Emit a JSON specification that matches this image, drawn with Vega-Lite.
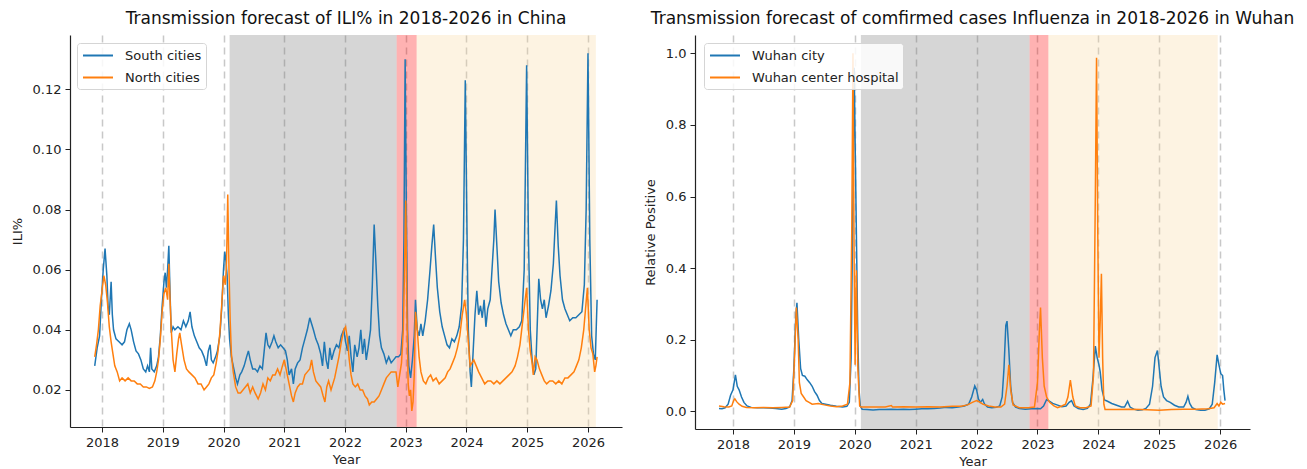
{
  "$schema": "https://vega.github.io/schema/vega-lite/v6.json",
  "padding": {"left": 11, "top": 10, "right": 0, "bottom": 0},
  "background": "white",
  "config": {
    "font": "DejaVu Sans",
    "view": {"stroke": null},
    "axis": {"labelFontSize": 13, "titleFontSize": 13, "labelColor": "#222", "titleColor": "#222", "domainColor": "#222", "tickColor": "#222", "tickSize": 5, "labelPadding": 4, "titleFontWeight": "normal", "domainWidth": 1.2, "labelFont": "DejaVu Sans", "titleFont": "DejaVu Sans"},
    "title": {"fontSize": 17, "fontWeight": "normal", "offset": 7, "color": "#111", "font": "DejaVu Sans"},
    "legend": {"orient": "none", "legendX": 7, "legendY": 8, "title": null, "symbolType": "M-0.87,0H3.13", "symbolSize": 225, "symbolStrokeWidth": 2, "symbolFillColor": "transparent", "labelFontSize": 13, "labelColor": "#222", "strokeColor": "#d5d5d5", "fillColor": "rgba(255,255,255,0.85)", "padding": 4, "cornerRadius": 3, "rowPadding": 6, "labelOffset": 27, "labelFont": "DejaVu Sans"}
  },
  "datasets": {
    "china_periods": [
      {"phase": "control", "start": 2020.1, "end": 2022.85},
      {"phase": "peak", "start": 2022.85, "end": 2023.18},
      {"phase": "forecast", "start": 2023.18, "end": 2026.13}
    ],
    "wuhan_periods": [
      {"phase": "control", "start": 2020.1, "end": 2022.87},
      {"phase": "peak", "start": 2022.87, "end": 2023.18},
      {"phase": "forecast", "start": 2023.18, "end": 2025.96}
    ],
    "china": [
      {"series":"South cities","year":2017.88,"value":0.028},{"series":"South cities","year":2017.92,"value":0.034},{"series":"South cities","year":2017.96,"value":0.038},{"series":"South cities","year":2017.99,"value":0.05},{"series":"South cities","year":2018.02,"value":0.06},{"series":"South cities","year":2018.05,"value":0.067},{"series":"South cities","year":2018.08,"value":0.058},{"series":"South cities","year":2018.1,"value":0.048},{"series":"South cities","year":2018.12,"value":0.045},{"series":"South cities","year":2018.15,"value":0.056},{"series":"South cities","year":2018.17,"value":0.045},{"series":"South cities","year":2018.19,"value":0.04},{"series":"South cities","year":2018.23,"value":0.037},{"series":"South cities","year":2018.28,"value":0.036},{"series":"South cities","year":2018.33,"value":0.035},{"series":"South cities","year":2018.37,"value":0.036},{"series":"South cities","year":2018.41,"value":0.04},{"series":"South cities","year":2018.45,"value":0.042},{"series":"South cities","year":2018.48,"value":0.04},{"series":"South cities","year":2018.52,"value":0.036},{"series":"South cities","year":2018.56,"value":0.033},{"series":"South cities","year":2018.6,"value":0.032},{"series":"South cities","year":2018.64,"value":0.03},{"series":"South cities","year":2018.68,"value":0.027},{"series":"South cities","year":2018.72,"value":0.026},{"series":"South cities","year":2018.75,"value":0.028},{"series":"South cities","year":2018.78,"value":0.026},{"series":"South cities","year":2018.8,"value":0.034},{"series":"South cities","year":2018.82,"value":0.027},{"series":"South cities","year":2018.86,"value":0.026},{"series":"South cities","year":2018.9,"value":0.028},{"series":"South cities","year":2018.93,"value":0.031},{"series":"South cities","year":2018.96,"value":0.038},{"series":"South cities","year":2018.99,"value":0.048},{"series":"South cities","year":2019.02,"value":0.056},{"series":"South cities","year":2019.04,"value":0.059},{"series":"South cities","year":2019.06,"value":0.054},{"series":"South cities","year":2019.08,"value":0.06},{"series":"South cities","year":2019.1,"value":0.068},{"series":"South cities","year":2019.12,"value":0.052},{"series":"South cities","year":2019.14,"value":0.039},{"series":"South cities","year":2019.17,"value":0.041},{"series":"South cities","year":2019.2,"value":0.04},{"series":"South cities","year":2019.25,"value":0.041},{"series":"South cities","year":2019.3,"value":0.04},{"series":"South cities","year":2019.34,"value":0.043},{"series":"South cities","year":2019.38,"value":0.041},{"series":"South cities","year":2019.42,"value":0.043},{"series":"South cities","year":2019.45,"value":0.046},{"series":"South cities","year":2019.48,"value":0.041},{"series":"South cities","year":2019.52,"value":0.038},{"series":"South cities","year":2019.56,"value":0.036},{"series":"South cities","year":2019.6,"value":0.034},{"series":"South cities","year":2019.64,"value":0.033},{"series":"South cities","year":2019.68,"value":0.031},{"series":"South cities","year":2019.72,"value":0.028},{"series":"South cities","year":2019.75,"value":0.033},{"series":"South cities","year":2019.78,"value":0.035},{"series":"South cities","year":2019.8,"value":0.03},{"series":"South cities","year":2019.83,"value":0.029},{"series":"South cities","year":2019.87,"value":0.031},{"series":"South cities","year":2019.9,"value":0.033},{"series":"South cities","year":2019.94,"value":0.038},{"series":"South cities","year":2019.97,"value":0.047},{"series":"South cities","year":2020.0,"value":0.06},{"series":"South cities","year":2020.02,"value":0.066},{"series":"South cities","year":2020.04,"value":0.063},{"series":"South cities","year":2020.06,"value":0.058},{"series":"South cities","year":2020.08,"value":0.045},{"series":"South cities","year":2020.1,"value":0.037},{"series":"South cities","year":2020.13,"value":0.031},{"series":"South cities","year":2020.17,"value":0.027},{"series":"South cities","year":2020.2,"value":0.024},{"series":"South cities","year":2020.23,"value":0.022},{"series":"South cities","year":2020.27,"value":0.025},{"series":"South cities","year":2020.3,"value":0.026},{"series":"South cities","year":2020.34,"value":0.028},{"series":"South cities","year":2020.38,"value":0.031},{"series":"South cities","year":2020.41,"value":0.033},{"series":"South cities","year":2020.44,"value":0.03},{"series":"South cities","year":2020.48,"value":0.027},{"series":"South cities","year":2020.52,"value":0.027},{"series":"South cities","year":2020.56,"value":0.026},{"series":"South cities","year":2020.6,"value":0.028},{"series":"South cities","year":2020.64,"value":0.027},{"series":"South cities","year":2020.67,"value":0.033},{"series":"South cities","year":2020.7,"value":0.039},{"series":"South cities","year":2020.73,"value":0.035},{"series":"South cities","year":2020.76,"value":0.034},{"series":"South cities","year":2020.8,"value":0.036},{"series":"South cities","year":2020.83,"value":0.038},{"series":"South cities","year":2020.86,"value":0.036},{"series":"South cities","year":2020.9,"value":0.034},{"series":"South cities","year":2020.94,"value":0.035},{"series":"South cities","year":2020.98,"value":0.034},{"series":"South cities","year":2021.02,"value":0.033},{"series":"South cities","year":2021.05,"value":0.03},{"series":"South cities","year":2021.08,"value":0.025},{"series":"South cities","year":2021.12,"value":0.027},{"series":"South cities","year":2021.15,"value":0.022},{"series":"South cities","year":2021.18,"value":0.027},{"series":"South cities","year":2021.22,"value":0.029},{"series":"South cities","year":2021.26,"value":0.03},{"series":"South cities","year":2021.3,"value":0.034},{"series":"South cities","year":2021.34,"value":0.037},{"series":"South cities","year":2021.38,"value":0.04},{"series":"South cities","year":2021.42,"value":0.044},{"series":"South cities","year":2021.45,"value":0.042},{"series":"South cities","year":2021.48,"value":0.04},{"series":"South cities","year":2021.52,"value":0.037},{"series":"South cities","year":2021.56,"value":0.035},{"series":"South cities","year":2021.6,"value":0.032},{"series":"South cities","year":2021.63,"value":0.028},{"series":"South cities","year":2021.66,"value":0.036},{"series":"South cities","year":2021.69,"value":0.03},{"series":"South cities","year":2021.72,"value":0.027},{"series":"South cities","year":2021.75,"value":0.034},{"series":"South cities","year":2021.78,"value":0.03},{"series":"South cities","year":2021.82,"value":0.033},{"series":"South cities","year":2021.86,"value":0.035},{"series":"South cities","year":2021.9,"value":0.034},{"series":"South cities","year":2021.94,"value":0.038},{"series":"South cities","year":2021.98,"value":0.04},{"series":"South cities","year":2022.01,"value":0.036},{"series":"South cities","year":2022.04,"value":0.033},{"series":"South cities","year":2022.07,"value":0.038},{"series":"South cities","year":2022.1,"value":0.031},{"series":"South cities","year":2022.13,"value":0.026},{"series":"South cities","year":2022.16,"value":0.035},{"series":"South cities","year":2022.2,"value":0.031},{"series":"South cities","year":2022.23,"value":0.034},{"series":"South cities","year":2022.26,"value":0.04},{"series":"South cities","year":2022.29,"value":0.032},{"series":"South cities","year":2022.32,"value":0.037},{"series":"South cities","year":2022.35,"value":0.03},{"series":"South cities","year":2022.38,"value":0.034},{"series":"South cities","year":2022.42,"value":0.04},{"series":"South cities","year":2022.45,"value":0.055},{"series":"South cities","year":2022.48,"value":0.075},{"series":"South cities","year":2022.51,"value":0.062},{"series":"South cities","year":2022.54,"value":0.048},{"series":"South cities","year":2022.57,"value":0.038},{"series":"South cities","year":2022.6,"value":0.034},{"series":"South cities","year":2022.64,"value":0.032},{"series":"South cities","year":2022.68,"value":0.029},{"series":"South cities","year":2022.72,"value":0.031},{"series":"South cities","year":2022.76,"value":0.029},{"series":"South cities","year":2022.8,"value":0.03},{"series":"South cities","year":2022.84,"value":0.031},{"series":"South cities","year":2022.88,"value":0.031},{"series":"South cities","year":2022.92,"value":0.032},{"series":"South cities","year":2022.95,"value":0.04},{"series":"South cities","year":2022.97,"value":0.07},{"series":"South cities","year":2022.99,"value":0.13},{"series":"South cities","year":2023.01,"value":0.08},{"series":"South cities","year":2023.03,"value":0.04},{"series":"South cities","year":2023.05,"value":0.028},{"series":"South cities","year":2023.08,"value":0.024},{"series":"South cities","year":2023.11,"value":0.03},{"series":"South cities","year":2023.14,"value":0.038},{"series":"South cities","year":2023.16,"value":0.05},{"series":"South cities","year":2023.19,"value":0.04},{"series":"South cities","year":2023.22,"value":0.038},{"series":"South cities","year":2023.25,"value":0.042},{"series":"South cities","year":2023.28,"value":0.038},{"series":"South cities","year":2023.32,"value":0.043},{"series":"South cities","year":2023.36,"value":0.05},{"series":"South cities","year":2023.4,"value":0.06},{"series":"South cities","year":2023.43,"value":0.068},{"series":"South cities","year":2023.46,"value":0.075},{"series":"South cities","year":2023.49,"value":0.064},{"series":"South cities","year":2023.52,"value":0.054},{"series":"South cities","year":2023.56,"value":0.046},{"series":"South cities","year":2023.6,"value":0.041},{"series":"South cities","year":2023.64,"value":0.038},{"series":"South cities","year":2023.68,"value":0.035},{"series":"South cities","year":2023.72,"value":0.034},{"series":"South cities","year":2023.76,"value":0.037},{"series":"South cities","year":2023.8,"value":0.036},{"series":"South cities","year":2023.84,"value":0.038},{"series":"South cities","year":2023.88,"value":0.041},{"series":"South cities","year":2023.92,"value":0.048},{"series":"South cities","year":2023.95,"value":0.07},{"series":"South cities","year":2023.98,"value":0.123},{"series":"South cities","year":2024.01,"value":0.07},{"series":"South cities","year":2024.03,"value":0.04},{"series":"South cities","year":2024.06,"value":0.026},{"series":"South cities","year":2024.08,"value":0.021},{"series":"South cities","year":2024.11,"value":0.033},{"series":"South cities","year":2024.14,"value":0.045},{"series":"South cities","year":2024.17,"value":0.053},{"series":"South cities","year":2024.2,"value":0.045},{"series":"South cities","year":2024.23,"value":0.048},{"series":"South cities","year":2024.26,"value":0.044},{"series":"South cities","year":2024.29,"value":0.05},{"series":"South cities","year":2024.32,"value":0.041},{"series":"South cities","year":2024.35,"value":0.047},{"series":"South cities","year":2024.39,"value":0.05},{"series":"South cities","year":2024.42,"value":0.06},{"series":"South cities","year":2024.45,"value":0.07},{"series":"South cities","year":2024.47,"value":0.08},{"series":"South cities","year":2024.5,"value":0.068},{"series":"South cities","year":2024.53,"value":0.056},{"series":"South cities","year":2024.57,"value":0.049},{"series":"South cities","year":2024.61,"value":0.045},{"series":"South cities","year":2024.65,"value":0.042},{"series":"South cities","year":2024.69,"value":0.04},{"series":"South cities","year":2024.73,"value":0.038},{"series":"South cities","year":2024.77,"value":0.04},{"series":"South cities","year":2024.82,"value":0.04},{"series":"South cities","year":2024.87,"value":0.041},{"series":"South cities","year":2024.91,"value":0.043},{"series":"South cities","year":2024.95,"value":0.06},{"series":"South cities","year":2024.99,"value":0.128},{"series":"South cities","year":2025.02,"value":0.07},{"series":"South cities","year":2025.05,"value":0.04},{"series":"South cities","year":2025.08,"value":0.03},{"series":"South cities","year":2025.11,"value":0.025},{"series":"South cities","year":2025.14,"value":0.027},{"series":"South cities","year":2025.17,"value":0.045},{"series":"South cities","year":2025.19,"value":0.057},{"series":"South cities","year":2025.22,"value":0.05},{"series":"South cities","year":2025.25,"value":0.047},{"series":"South cities","year":2025.28,"value":0.05},{"series":"South cities","year":2025.31,"value":0.044},{"series":"South cities","year":2025.35,"value":0.048},{"series":"South cities","year":2025.39,"value":0.053},{"series":"South cities","year":2025.43,"value":0.062},{"series":"South cities","year":2025.46,"value":0.075},{"series":"South cities","year":2025.48,"value":0.083},{"series":"South cities","year":2025.51,"value":0.068},{"series":"South cities","year":2025.54,"value":0.058},{"series":"South cities","year":2025.58,"value":0.05},{"series":"South cities","year":2025.62,"value":0.047},{"series":"South cities","year":2025.66,"value":0.045},{"series":"South cities","year":2025.7,"value":0.043},{"series":"South cities","year":2025.75,"value":0.044},{"series":"South cities","year":2025.8,"value":0.044},{"series":"South cities","year":2025.85,"value":0.045},{"series":"South cities","year":2025.9,"value":0.046},{"series":"South cities","year":2025.94,"value":0.055},{"series":"South cities","year":2025.97,"value":0.08},{"series":"South cities","year":2026.0,"value":0.132},{"series":"South cities","year":2026.03,"value":0.07},{"series":"South cities","year":2026.06,"value":0.038},{"series":"South cities","year":2026.09,"value":0.032},{"series":"South cities","year":2026.12,"value":0.03},{"series":"South cities","year":2026.15,"value":0.05},
      {"series":"North cities","year":2017.88,"value":0.031},{"series":"North cities","year":2017.91,"value":0.035},{"series":"North cities","year":2017.94,"value":0.04},{"series":"North cities","year":2017.97,"value":0.048},{"series":"North cities","year":2018.0,"value":0.053},{"series":"North cities","year":2018.03,"value":0.058},{"series":"North cities","year":2018.06,"value":0.055},{"series":"North cities","year":2018.09,"value":0.049},{"series":"North cities","year":2018.12,"value":0.041},{"series":"North cities","year":2018.15,"value":0.036},{"series":"North cities","year":2018.18,"value":0.032},{"series":"North cities","year":2018.21,"value":0.028},{"series":"North cities","year":2018.25,"value":0.026},{"series":"North cities","year":2018.29,"value":0.023},{"series":"North cities","year":2018.33,"value":0.024},{"series":"North cities","year":2018.38,"value":0.023},{"series":"North cities","year":2018.43,"value":0.024},{"series":"North cities","year":2018.48,"value":0.023},{"series":"North cities","year":2018.53,"value":0.023},{"series":"North cities","year":2018.58,"value":0.022},{"series":"North cities","year":2018.63,"value":0.022},{"series":"North cities","year":2018.68,"value":0.021},{"series":"North cities","year":2018.73,"value":0.021},{"series":"North cities","year":2018.78,"value":0.0205},{"series":"North cities","year":2018.83,"value":0.021},{"series":"North cities","year":2018.87,"value":0.023},{"series":"North cities","year":2018.9,"value":0.026},{"series":"North cities","year":2018.93,"value":0.03},{"series":"North cities","year":2018.96,"value":0.037},{"series":"North cities","year":2018.99,"value":0.046},{"series":"North cities","year":2019.02,"value":0.052},{"series":"North cities","year":2019.05,"value":0.054},{"series":"North cities","year":2019.08,"value":0.05},{"series":"North cities","year":2019.1,"value":0.062},{"series":"North cities","year":2019.12,"value":0.05},{"series":"North cities","year":2019.14,"value":0.04},{"series":"North cities","year":2019.17,"value":0.03},{"series":"North cities","year":2019.2,"value":0.026},{"series":"North cities","year":2019.23,"value":0.032},{"series":"North cities","year":2019.26,"value":0.037},{"series":"North cities","year":2019.28,"value":0.039},{"series":"North cities","year":2019.31,"value":0.035},{"series":"North cities","year":2019.35,"value":0.03},{"series":"North cities","year":2019.39,"value":0.027},{"series":"North cities","year":2019.43,"value":0.026},{"series":"North cities","year":2019.48,"value":0.025},{"series":"North cities","year":2019.53,"value":0.024},{"series":"North cities","year":2019.58,"value":0.022},{"series":"North cities","year":2019.63,"value":0.022},{"series":"North cities","year":2019.68,"value":0.02},{"series":"North cities","year":2019.72,"value":0.021},{"series":"North cities","year":2019.76,"value":0.022},{"series":"North cities","year":2019.8,"value":0.024},{"series":"North cities","year":2019.84,"value":0.025},{"series":"North cities","year":2019.88,"value":0.029},{"series":"North cities","year":2019.91,"value":0.033},{"series":"North cities","year":2019.94,"value":0.039},{"series":"North cities","year":2019.97,"value":0.048},{"series":"North cities","year":2020.0,"value":0.058},{"series":"North cities","year":2020.03,"value":0.055},{"series":"North cities","year":2020.05,"value":0.062},{"series":"North cities","year":2020.07,"value":0.085},{"series":"North cities","year":2020.09,"value":0.06},{"series":"North cities","year":2020.11,"value":0.043},{"series":"North cities","year":2020.13,"value":0.032},{"series":"North cities","year":2020.16,"value":0.026},{"series":"North cities","year":2020.2,"value":0.021},{"series":"North cities","year":2020.24,"value":0.019},{"series":"North cities","year":2020.28,"value":0.019},{"series":"North cities","year":2020.32,"value":0.02},{"series":"North cities","year":2020.36,"value":0.021},{"series":"North cities","year":2020.4,"value":0.022},{"series":"North cities","year":2020.44,"value":0.019},{"series":"North cities","year":2020.48,"value":0.021},{"series":"North cities","year":2020.52,"value":0.019},{"series":"North cities","year":2020.57,"value":0.017},{"series":"North cities","year":2020.61,"value":0.019},{"series":"North cities","year":2020.65,"value":0.022},{"series":"North cities","year":2020.69,"value":0.02},{"series":"North cities","year":2020.73,"value":0.024},{"series":"North cities","year":2020.77,"value":0.023},{"series":"North cities","year":2020.81,"value":0.025},{"series":"North cities","year":2020.85,"value":0.025},{"series":"North cities","year":2020.89,"value":0.027},{"series":"North cities","year":2020.93,"value":0.025},{"series":"North cities","year":2020.97,"value":0.028},{"series":"North cities","year":2021.0,"value":0.03},{"series":"North cities","year":2021.03,"value":0.027},{"series":"North cities","year":2021.06,"value":0.024},{"series":"North cities","year":2021.09,"value":0.021},{"series":"North cities","year":2021.12,"value":0.018},{"series":"North cities","year":2021.15,"value":0.016},{"series":"North cities","year":2021.18,"value":0.019},{"series":"North cities","year":2021.22,"value":0.021},{"series":"North cities","year":2021.26,"value":0.022},{"series":"North cities","year":2021.3,"value":0.022},{"series":"North cities","year":2021.34,"value":0.025},{"series":"North cities","year":2021.38,"value":0.026},{"series":"North cities","year":2021.42,"value":0.027},{"series":"North cities","year":2021.45,"value":0.03},{"series":"North cities","year":2021.48,"value":0.026},{"series":"North cities","year":2021.52,"value":0.023},{"series":"North cities","year":2021.56,"value":0.022},{"series":"North cities","year":2021.6,"value":0.021},{"series":"North cities","year":2021.64,"value":0.018},{"series":"North cities","year":2021.67,"value":0.016},{"series":"North cities","year":2021.7,"value":0.021},{"series":"North cities","year":2021.73,"value":0.023},{"series":"North cities","year":2021.77,"value":0.02},{"series":"North cities","year":2021.8,"value":0.022},{"series":"North cities","year":2021.83,"value":0.024},{"series":"North cities","year":2021.86,"value":0.027},{"series":"North cities","year":2021.9,"value":0.031},{"series":"North cities","year":2021.94,"value":0.036},{"series":"North cities","year":2021.98,"value":0.04},{"series":"North cities","year":2022.01,"value":0.041},{"series":"North cities","year":2022.04,"value":0.037},{"series":"North cities","year":2022.07,"value":0.03},{"series":"North cities","year":2022.1,"value":0.025},{"series":"North cities","year":2022.13,"value":0.022},{"series":"North cities","year":2022.17,"value":0.021},{"series":"North cities","year":2022.21,"value":0.022},{"series":"North cities","year":2022.25,"value":0.02},{"series":"North cities","year":2022.29,"value":0.02},{"series":"North cities","year":2022.33,"value":0.018},{"series":"North cities","year":2022.37,"value":0.017},{"series":"North cities","year":2022.4,"value":0.015},{"series":"North cities","year":2022.44,"value":0.016},{"series":"North cities","year":2022.48,"value":0.016},{"series":"North cities","year":2022.52,"value":0.017},{"series":"North cities","year":2022.56,"value":0.018},{"series":"North cities","year":2022.6,"value":0.02},{"series":"North cities","year":2022.64,"value":0.022},{"series":"North cities","year":2022.68,"value":0.024},{"series":"North cities","year":2022.72,"value":0.025},{"series":"North cities","year":2022.76,"value":0.026},{"series":"North cities","year":2022.8,"value":0.026},{"series":"North cities","year":2022.84,"value":0.026},{"series":"North cities","year":2022.87,"value":0.021},{"series":"North cities","year":2022.9,"value":0.025},{"series":"North cities","year":2022.93,"value":0.029},{"series":"North cities","year":2022.96,"value":0.04},{"series":"North cities","year":2022.98,"value":0.06},{"series":"North cities","year":2023.0,"value":0.083},{"series":"North cities","year":2023.02,"value":0.045},{"series":"North cities","year":2023.04,"value":0.022},{"series":"North cities","year":2023.06,"value":0.018},{"series":"North cities","year":2023.08,"value":0.02},{"series":"North cities","year":2023.1,"value":0.013},{"series":"North cities","year":2023.12,"value":0.016},{"series":"North cities","year":2023.14,"value":0.025},{"series":"North cities","year":2023.16,"value":0.046},{"series":"North cities","year":2023.19,"value":0.04},{"series":"North cities","year":2023.22,"value":0.031},{"series":"North cities","year":2023.25,"value":0.026},{"series":"North cities","year":2023.29,"value":0.023},{"series":"North cities","year":2023.33,"value":0.022},{"series":"North cities","year":2023.37,"value":0.024},{"series":"North cities","year":2023.41,"value":0.025},{"series":"North cities","year":2023.45,"value":0.023},{"series":"North cities","year":2023.5,"value":0.024},{"series":"North cities","year":2023.55,"value":0.022},{"series":"North cities","year":2023.6,"value":0.023},{"series":"North cities","year":2023.65,"value":0.024},{"series":"North cities","year":2023.69,"value":0.026},{"series":"North cities","year":2023.73,"value":0.027},{"series":"North cities","year":2023.77,"value":0.029},{"series":"North cities","year":2023.81,"value":0.031},{"series":"North cities","year":2023.85,"value":0.034},{"series":"North cities","year":2023.89,"value":0.038},{"series":"North cities","year":2023.93,"value":0.045},{"series":"North cities","year":2023.97,"value":0.05},{"series":"North cities","year":2024.0,"value":0.045},{"series":"North cities","year":2024.03,"value":0.036},{"series":"North cities","year":2024.06,"value":0.028},{"series":"North cities","year":2024.09,"value":0.029},{"series":"North cities","year":2024.12,"value":0.03},{"series":"North cities","year":2024.16,"value":0.028},{"series":"North cities","year":2024.2,"value":0.026},{"series":"North cities","year":2024.25,"value":0.024},{"series":"North cities","year":2024.3,"value":0.022},{"series":"North cities","year":2024.35,"value":0.023},{"series":"North cities","year":2024.4,"value":0.023},{"series":"North cities","year":2024.45,"value":0.022},{"series":"North cities","year":2024.5,"value":0.023},{"series":"North cities","year":2024.55,"value":0.022},{"series":"North cities","year":2024.6,"value":0.023},{"series":"North cities","year":2024.65,"value":0.024},{"series":"North cities","year":2024.7,"value":0.025},{"series":"North cities","year":2024.75,"value":0.026},{"series":"North cities","year":2024.8,"value":0.028},{"series":"North cities","year":2024.84,"value":0.031},{"series":"North cities","year":2024.88,"value":0.035},{"series":"North cities","year":2024.92,"value":0.042},{"series":"North cities","year":2024.96,"value":0.049},{"series":"North cities","year":2024.99,"value":0.054},{"series":"North cities","year":2025.02,"value":0.04},{"series":"North cities","year":2025.05,"value":0.033},{"series":"North cities","year":2025.08,"value":0.029},{"series":"North cities","year":2025.1,"value":0.025},{"series":"North cities","year":2025.13,"value":0.031},{"series":"North cities","year":2025.16,"value":0.03},{"series":"North cities","year":2025.2,"value":0.027},{"series":"North cities","year":2025.24,"value":0.025},{"series":"North cities","year":2025.28,"value":0.023},{"series":"North cities","year":2025.32,"value":0.022},{"series":"North cities","year":2025.37,"value":0.023},{"series":"North cities","year":2025.42,"value":0.023},{"series":"North cities","year":2025.47,"value":0.022},{"series":"North cities","year":2025.52,"value":0.023},{"series":"North cities","year":2025.57,"value":0.022},{"series":"North cities","year":2025.62,"value":0.024},{"series":"North cities","year":2025.67,"value":0.024},{"series":"North cities","year":2025.72,"value":0.025},{"series":"North cities","year":2025.77,"value":0.026},{"series":"North cities","year":2025.81,"value":0.028},{"series":"North cities","year":2025.85,"value":0.03},{"series":"North cities","year":2025.89,"value":0.034},{"series":"North cities","year":2025.93,"value":0.04},{"series":"North cities","year":2025.96,"value":0.047},{"series":"North cities","year":2025.99,"value":0.054},{"series":"North cities","year":2026.02,"value":0.04},{"series":"North cities","year":2026.05,"value":0.034},{"series":"North cities","year":2026.08,"value":0.032},{"series":"North cities","year":2026.11,"value":0.026},{"series":"North cities","year":2026.13,"value":0.028},{"series":"North cities","year":2026.15,"value":0.031}
    ],
    "wuhan": [
      {"series":"Wuhan city","year":2017.77,"value":0.008},{"series":"Wuhan city","year":2017.82,"value":0.007},{"series":"Wuhan city","year":2017.87,"value":0.01},{"series":"Wuhan city","year":2017.92,"value":0.02},{"series":"Wuhan city","year":2017.96,"value":0.045},{"series":"Wuhan city","year":2018.0,"value":0.06},{"series":"Wuhan city","year":2018.04,"value":0.102},{"series":"Wuhan city","year":2018.07,"value":0.07},{"series":"Wuhan city","year":2018.1,"value":0.06},{"series":"Wuhan city","year":2018.14,"value":0.04},{"series":"Wuhan city","year":2018.18,"value":0.025},{"series":"Wuhan city","year":2018.23,"value":0.015},{"series":"Wuhan city","year":2018.3,"value":0.011},{"series":"Wuhan city","year":2018.4,"value":0.01},{"series":"Wuhan city","year":2018.5,"value":0.01},{"series":"Wuhan city","year":2018.6,"value":0.009},{"series":"Wuhan city","year":2018.7,"value":0.008},{"series":"Wuhan city","year":2018.8,"value":0.006},{"series":"Wuhan city","year":2018.87,"value":0.008},{"series":"Wuhan city","year":2018.93,"value":0.012},{"series":"Wuhan city","year":2018.97,"value":0.03},{"series":"Wuhan city","year":2019.0,"value":0.12},{"series":"Wuhan city","year":2019.03,"value":0.26},{"series":"Wuhan city","year":2019.05,"value":0.303},{"series":"Wuhan city","year":2019.08,"value":0.2},{"series":"Wuhan city","year":2019.11,"value":0.12},{"series":"Wuhan city","year":2019.14,"value":0.1},{"series":"Wuhan city","year":2019.18,"value":0.098},{"series":"Wuhan city","year":2019.22,"value":0.088},{"series":"Wuhan city","year":2019.26,"value":0.08},{"series":"Wuhan city","year":2019.3,"value":0.07},{"series":"Wuhan city","year":2019.34,"value":0.055},{"series":"Wuhan city","year":2019.38,"value":0.045},{"series":"Wuhan city","year":2019.42,"value":0.03},{"series":"Wuhan city","year":2019.46,"value":0.022},{"series":"Wuhan city","year":2019.52,"value":0.02},{"series":"Wuhan city","year":2019.6,"value":0.017},{"series":"Wuhan city","year":2019.7,"value":0.014},{"series":"Wuhan city","year":2019.8,"value":0.012},{"series":"Wuhan city","year":2019.87,"value":0.014},{"series":"Wuhan city","year":2019.91,"value":0.025},{"series":"Wuhan city","year":2019.94,"value":0.15},{"series":"Wuhan city","year":2019.97,"value":0.6},{"series":"Wuhan city","year":2019.99,"value":0.96},{"series":"Wuhan city","year":2020.01,"value":0.7},{"series":"Wuhan city","year":2020.03,"value":0.45},{"series":"Wuhan city","year":2020.05,"value":0.2},{"series":"Wuhan city","year":2020.07,"value":0.06},{"series":"Wuhan city","year":2020.09,"value":0.015},{"series":"Wuhan city","year":2020.12,"value":0.006},{"series":"Wuhan city","year":2020.2,"value":0.005},{"series":"Wuhan city","year":2020.3,"value":0.004},{"series":"Wuhan city","year":2020.4,"value":0.005},{"series":"Wuhan city","year":2020.5,"value":0.005},{"series":"Wuhan city","year":2020.6,"value":0.006},{"series":"Wuhan city","year":2020.7,"value":0.005},{"series":"Wuhan city","year":2020.8,"value":0.006},{"series":"Wuhan city","year":2020.9,"value":0.005},{"series":"Wuhan city","year":2021.0,"value":0.006},{"series":"Wuhan city","year":2021.1,"value":0.007},{"series":"Wuhan city","year":2021.2,"value":0.007},{"series":"Wuhan city","year":2021.3,"value":0.008},{"series":"Wuhan city","year":2021.4,"value":0.009},{"series":"Wuhan city","year":2021.5,"value":0.011},{"series":"Wuhan city","year":2021.6,"value":0.01},{"series":"Wuhan city","year":2021.7,"value":0.012},{"series":"Wuhan city","year":2021.8,"value":0.015},{"series":"Wuhan city","year":2021.87,"value":0.02},{"series":"Wuhan city","year":2021.92,"value":0.04},{"series":"Wuhan city","year":2021.97,"value":0.071},{"series":"Wuhan city","year":2022.0,"value":0.06},{"series":"Wuhan city","year":2022.03,"value":0.035},{"series":"Wuhan city","year":2022.06,"value":0.025},{"series":"Wuhan city","year":2022.1,"value":0.033},{"series":"Wuhan city","year":2022.13,"value":0.02},{"series":"Wuhan city","year":2022.18,"value":0.012},{"series":"Wuhan city","year":2022.25,"value":0.01},{"series":"Wuhan city","year":2022.32,"value":0.011},{"series":"Wuhan city","year":2022.38,"value":0.015},{"series":"Wuhan city","year":2022.42,"value":0.04},{"series":"Wuhan city","year":2022.45,"value":0.12},{"series":"Wuhan city","year":2022.48,"value":0.24},{"series":"Wuhan city","year":2022.5,"value":0.252},{"series":"Wuhan city","year":2022.53,"value":0.17},{"series":"Wuhan city","year":2022.56,"value":0.07},{"series":"Wuhan city","year":2022.59,"value":0.025},{"series":"Wuhan city","year":2022.64,"value":0.012},{"series":"Wuhan city","year":2022.7,"value":0.008},{"series":"Wuhan city","year":2022.8,"value":0.006},{"series":"Wuhan city","year":2022.9,"value":0.007},{"series":"Wuhan city","year":2023.0,"value":0.008},{"series":"Wuhan city","year":2023.05,"value":0.007},{"series":"Wuhan city","year":2023.1,"value":0.015},{"series":"Wuhan city","year":2023.15,"value":0.033},{"series":"Wuhan city","year":2023.2,"value":0.028},{"series":"Wuhan city","year":2023.25,"value":0.022},{"series":"Wuhan city","year":2023.32,"value":0.018},{"series":"Wuhan city","year":2023.4,"value":0.013},{"series":"Wuhan city","year":2023.47,"value":0.015},{"series":"Wuhan city","year":2023.52,"value":0.025},{"series":"Wuhan city","year":2023.56,"value":0.03},{"series":"Wuhan city","year":2023.6,"value":0.015},{"series":"Wuhan city","year":2023.67,"value":0.008},{"series":"Wuhan city","year":2023.75,"value":0.005},{"series":"Wuhan city","year":2023.82,"value":0.008},{"series":"Wuhan city","year":2023.87,"value":0.02},{"series":"Wuhan city","year":2023.91,"value":0.09},{"series":"Wuhan city","year":2023.95,"value":0.182},{"series":"Wuhan city","year":2023.98,"value":0.15},{"series":"Wuhan city","year":2024.01,"value":0.13},{"series":"Wuhan city","year":2024.03,"value":0.11},{"series":"Wuhan city","year":2024.06,"value":0.06},{"series":"Wuhan city","year":2024.1,"value":0.032},{"series":"Wuhan city","year":2024.15,"value":0.028},{"series":"Wuhan city","year":2024.22,"value":0.022},{"series":"Wuhan city","year":2024.3,"value":0.017},{"series":"Wuhan city","year":2024.38,"value":0.012},{"series":"Wuhan city","year":2024.43,"value":0.012},{"series":"Wuhan city","year":2024.48,"value":0.028},{"series":"Wuhan city","year":2024.52,"value":0.012},{"series":"Wuhan city","year":2024.58,"value":0.006},{"series":"Wuhan city","year":2024.65,"value":0.003},{"series":"Wuhan city","year":2024.72,"value":0.004},{"series":"Wuhan city","year":2024.78,"value":0.008},{"series":"Wuhan city","year":2024.84,"value":0.02},{"series":"Wuhan city","year":2024.89,"value":0.07},{"series":"Wuhan city","year":2024.93,"value":0.15},{"series":"Wuhan city","year":2024.97,"value":0.17},{"series":"Wuhan city","year":2025.0,"value":0.12},{"series":"Wuhan city","year":2025.03,"value":0.07},{"series":"Wuhan city","year":2025.07,"value":0.04},{"series":"Wuhan city","year":2025.12,"value":0.03},{"series":"Wuhan city","year":2025.18,"value":0.025},{"series":"Wuhan city","year":2025.25,"value":0.017},{"series":"Wuhan city","year":2025.32,"value":0.012},{"series":"Wuhan city","year":2025.4,"value":0.012},{"series":"Wuhan city","year":2025.44,"value":0.025},{"series":"Wuhan city","year":2025.47,"value":0.042},{"series":"Wuhan city","year":2025.5,"value":0.022},{"series":"Wuhan city","year":2025.54,"value":0.01},{"series":"Wuhan city","year":2025.6,"value":0.005},{"series":"Wuhan city","year":2025.68,"value":0.003},{"series":"Wuhan city","year":2025.75,"value":0.003},{"series":"Wuhan city","year":2025.82,"value":0.007},{"series":"Wuhan city","year":2025.87,"value":0.02},{"series":"Wuhan city","year":2025.91,"value":0.08},{"series":"Wuhan city","year":2025.95,"value":0.158},{"series":"Wuhan city","year":2025.98,"value":0.13},{"series":"Wuhan city","year":2026.01,"value":0.105},{"series":"Wuhan city","year":2026.04,"value":0.1},{"series":"Wuhan city","year":2026.06,"value":0.06},{"series":"Wuhan city","year":2026.08,"value":0.03},
      {"series":"Wuhan center hospital","year":2017.77,"value":0.015},{"series":"Wuhan center hospital","year":2017.85,"value":0.013},{"series":"Wuhan center hospital","year":2017.93,"value":0.012},{"series":"Wuhan center hospital","year":2017.98,"value":0.015},{"series":"Wuhan center hospital","year":2018.01,"value":0.03},{"series":"Wuhan center hospital","year":2018.03,"value":0.035},{"series":"Wuhan center hospital","year":2018.06,"value":0.027},{"series":"Wuhan center hospital","year":2018.1,"value":0.02},{"series":"Wuhan center hospital","year":2018.15,"value":0.014},{"series":"Wuhan center hospital","year":2018.22,"value":0.011},{"series":"Wuhan center hospital","year":2018.35,"value":0.01},{"series":"Wuhan center hospital","year":2018.5,"value":0.011},{"series":"Wuhan center hospital","year":2018.65,"value":0.01},{"series":"Wuhan center hospital","year":2018.8,"value":0.011},{"series":"Wuhan center hospital","year":2018.93,"value":0.012},{"series":"Wuhan center hospital","year":2018.98,"value":0.03},{"series":"Wuhan center hospital","year":2019.01,"value":0.15},{"series":"Wuhan center hospital","year":2019.04,"value":0.29},{"series":"Wuhan center hospital","year":2019.07,"value":0.2},{"series":"Wuhan center hospital","year":2019.09,"value":0.08},{"series":"Wuhan center hospital","year":2019.12,"value":0.05},{"series":"Wuhan center hospital","year":2019.16,"value":0.04},{"series":"Wuhan center hospital","year":2019.2,"value":0.03},{"series":"Wuhan center hospital","year":2019.25,"value":0.025},{"series":"Wuhan center hospital","year":2019.3,"value":0.02},{"series":"Wuhan center hospital","year":2019.4,"value":0.022},{"series":"Wuhan center hospital","year":2019.5,"value":0.018},{"series":"Wuhan center hospital","year":2019.6,"value":0.015},{"series":"Wuhan center hospital","year":2019.7,"value":0.013},{"series":"Wuhan center hospital","year":2019.8,"value":0.015},{"series":"Wuhan center hospital","year":2019.88,"value":0.02},{"series":"Wuhan center hospital","year":2019.92,"value":0.08},{"series":"Wuhan center hospital","year":2019.95,"value":0.5},{"series":"Wuhan center hospital","year":2019.97,"value":1.0},{"series":"Wuhan center hospital","year":2019.99,"value":0.4},{"series":"Wuhan center hospital","year":2020.005,"value":0.13},{"series":"Wuhan center hospital","year":2020.025,"value":0.394},{"series":"Wuhan center hospital","year":2020.05,"value":0.12},{"series":"Wuhan center hospital","year":2020.08,"value":0.015},{"series":"Wuhan center hospital","year":2020.1,"value":0.012},{"series":"Wuhan center hospital","year":2020.3,"value":0.012},{"series":"Wuhan center hospital","year":2020.5,"value":0.012},{"series":"Wuhan center hospital","year":2020.6,"value":0.016},{"series":"Wuhan center hospital","year":2020.62,"value":0.012},{"series":"Wuhan center hospital","year":2020.8,"value":0.013},{"series":"Wuhan center hospital","year":2021.0,"value":0.012},{"series":"Wuhan center hospital","year":2021.2,"value":0.013},{"series":"Wuhan center hospital","year":2021.4,"value":0.012},{"series":"Wuhan center hospital","year":2021.6,"value":0.014},{"series":"Wuhan center hospital","year":2021.75,"value":0.014},{"series":"Wuhan center hospital","year":2021.85,"value":0.018},{"series":"Wuhan center hospital","year":2021.93,"value":0.025},{"series":"Wuhan center hospital","year":2022.0,"value":0.03},{"series":"Wuhan center hospital","year":2022.05,"value":0.026},{"series":"Wuhan center hospital","year":2022.1,"value":0.02},{"series":"Wuhan center hospital","year":2022.2,"value":0.015},{"series":"Wuhan center hospital","year":2022.3,"value":0.012},{"series":"Wuhan center hospital","year":2022.4,"value":0.012},{"series":"Wuhan center hospital","year":2022.46,"value":0.02},{"series":"Wuhan center hospital","year":2022.5,"value":0.07},{"series":"Wuhan center hospital","year":2022.53,"value":0.13},{"series":"Wuhan center hospital","year":2022.56,"value":0.06},{"series":"Wuhan center hospital","year":2022.6,"value":0.018},{"series":"Wuhan center hospital","year":2022.7,"value":0.01},{"series":"Wuhan center hospital","year":2022.85,"value":0.01},{"series":"Wuhan center hospital","year":2022.95,"value":0.012},{"series":"Wuhan center hospital","year":2023.0,"value":0.08},{"series":"Wuhan center hospital","year":2023.03,"value":0.22},{"series":"Wuhan center hospital","year":2023.05,"value":0.29},{"series":"Wuhan center hospital","year":2023.08,"value":0.15},{"series":"Wuhan center hospital","year":2023.11,"value":0.07},{"series":"Wuhan center hospital","year":2023.15,"value":0.04},{"series":"Wuhan center hospital","year":2023.2,"value":0.025},{"series":"Wuhan center hospital","year":2023.27,"value":0.015},{"series":"Wuhan center hospital","year":2023.33,"value":0.01},{"series":"Wuhan center hospital","year":2023.4,"value":0.015},{"series":"Wuhan center hospital","year":2023.46,"value":0.02},{"series":"Wuhan center hospital","year":2023.5,"value":0.04},{"series":"Wuhan center hospital","year":2023.54,"value":0.087},{"series":"Wuhan center hospital","year":2023.58,"value":0.04},{"series":"Wuhan center hospital","year":2023.62,"value":0.015},{"series":"Wuhan center hospital","year":2023.7,"value":0.01},{"series":"Wuhan center hospital","year":2023.8,"value":0.01},{"series":"Wuhan center hospital","year":2023.88,"value":0.015},{"series":"Wuhan center hospital","year":2023.92,"value":0.1},{"series":"Wuhan center hospital","year":2023.95,"value":0.6},{"series":"Wuhan center hospital","year":2023.97,"value":0.988},{"series":"Wuhan center hospital","year":2023.99,"value":0.5},{"series":"Wuhan center hospital","year":2024.01,"value":0.15},{"series":"Wuhan center hospital","year":2024.03,"value":0.25},{"series":"Wuhan center hospital","year":2024.05,"value":0.384},{"series":"Wuhan center hospital","year":2024.07,"value":0.15},{"series":"Wuhan center hospital","year":2024.09,"value":0.02},{"series":"Wuhan center hospital","year":2024.11,"value":0.005},{"series":"Wuhan center hospital","year":2024.3,"value":0.005},{"series":"Wuhan center hospital","year":2024.5,"value":0.006},{"series":"Wuhan center hospital","year":2024.7,"value":0.005},{"series":"Wuhan center hospital","year":2024.9,"value":0.004},{"series":"Wuhan center hospital","year":2025.0,"value":0.003},{"series":"Wuhan center hospital","year":2025.2,"value":0.005},{"series":"Wuhan center hospital","year":2025.4,"value":0.006},{"series":"Wuhan center hospital","year":2025.6,"value":0.006},{"series":"Wuhan center hospital","year":2025.8,"value":0.007},{"series":"Wuhan center hospital","year":2025.9,"value":0.01},{"series":"Wuhan center hospital","year":2025.95,"value":0.022},{"series":"Wuhan center hospital","year":2025.98,"value":0.015},{"series":"Wuhan center hospital","year":2026.01,"value":0.025},{"series":"Wuhan center hospital","year":2026.04,"value":0.02},{"series":"Wuhan center hospital","year":2026.08,"value":0.022}
    ]
  },
  "hconcat": [
    {
      "width": 552,
      "height": 392,
      "title": "Transmission forecast of ILI% in 2018-2026 in China",
      "layer": [
        {
          "data": {"name": "china_periods"},
          "mark": {"type": "rect", "fillOpacity": 0.3},
          "encoding": {
            "x": {"field": "start", "type": "quantitative", "scale": {"domain": [2017.473, 2026.56], "nice": false, "zero": false}, "axis": {"values": [2018, 2019, 2020, 2021, 2022, 2023, 2024, 2025, 2026], "format": "d", "title": "Year", "grid": true, "gridDash": [7, 5], "gridColor": "#c8c8c8", "gridWidth": 1.5}},
            "x2": {"field": "end"},
            "fill": {"field": "phase", "type": "nominal", "scale": {"domain": ["control", "peak", "forecast"], "range": ["#767676", "#ff0000", "#f8d79e"]}, "legend": null}
          }
        },
        {
          "data": {"name": "china"},
          "mark": {"type": "line", "strokeWidth": 1.5},
          "encoding": {
            "x": {"field": "year", "type": "quantitative", "scale": {"domain": [2017.473, 2026.56], "nice": false, "zero": false}, "axis": {"values": [2018, 2019, 2020, 2021, 2022, 2023, 2024, 2025, 2026], "format": "d", "title": "Year", "grid": true, "gridDash": [7, 5], "gridColor": "#c8c8c8", "gridWidth": 1.5}},
            "y": {"field": "value", "type": "quantitative", "scale": {"domain": [0.00766, 0.1381], "nice": false, "zero": false}, "axis": {"values": [0.02, 0.04, 0.06, 0.08, 0.1, 0.12], "format": ".2f", "title": "ILI%", "grid": false, "titlePadding": 8}},
            "stroke": {"field": "series", "type": "nominal", "scale": {"domain": ["South cities", "North cities"], "range": ["#1f77b4", "#ff7f0e"]}, "legend": {"legendX": 7, "legendY": 8}}
          }
        }
      ]
    },
    {
      "width": 555,
      "height": 394,
      "title": "Transmission forecast of comfirmed cases Influenza in 2018-2026 in Wuhan",
      "layer": [
        {
          "data": {"name": "wuhan_periods"},
          "mark": {"type": "rect", "fillOpacity": 0.3},
          "encoding": {
            "x": {"field": "start", "type": "quantitative", "scale": {"domain": [2017.376, 2026.49], "nice": false, "zero": false}, "axis": {"values": [2018, 2019, 2020, 2021, 2022, 2023, 2024, 2025, 2026], "format": "d", "title": "Year", "grid": true, "gridDash": [7, 5], "gridColor": "#c8c8c8", "gridWidth": 1.5}},
            "x2": {"field": "end"},
            "fill": {"field": "phase", "type": "nominal", "scale": {"domain": ["control", "peak", "forecast"], "range": ["#767676", "#ff0000", "#f8d79e"]}, "legend": null}
          }
        },
        {
          "data": {"name": "wuhan"},
          "mark": {"type": "line", "strokeWidth": 1.5},
          "encoding": {
            "x": {"field": "year", "type": "quantitative", "scale": {"domain": [2017.376, 2026.49], "nice": false, "zero": false}, "axis": {"values": [2018, 2019, 2020, 2021, 2022, 2023, 2024, 2025, 2026], "format": "d", "title": "Year", "grid": true, "gridDash": [7, 5], "gridColor": "#c8c8c8", "gridWidth": 1.5}},
            "y": {"field": "value", "type": "quantitative", "scale": {"domain": [-0.0494, 1.0513], "nice": false, "zero": false}, "axis": {"values": [0, 0.2, 0.4, 0.6, 0.8, 1.0], "format": ".1f", "title": "Relative Positive", "grid": false, "titlePadding": 8}},
            "stroke": {"field": "series", "type": "nominal", "scale": {"domain": ["Wuhan city", "Wuhan center hospital"], "range": ["#1f77b4", "#ff7f0e"]}, "legend": {"legendX": 9, "legendY": 8}}
          }
        }
      ]
    }
  ],
  "spacing": 73,
  "bounds": "flush",
  "resolve": {"scale": {"x": "independent", "y": "independent", "stroke": "independent", "fill": "independent"}, "legend": {"stroke": "independent"}}
}
